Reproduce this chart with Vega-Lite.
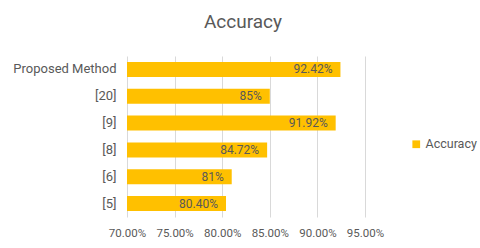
{
  "$schema": "https://vega.github.io/schema/vega-lite/v6.json",
  "autosize": "none",
  "width": 238,
  "height": 161,
  "padding": {"left": 127, "top": 56, "right": 115, "bottom": 31},
  "background": "white",
  "config": {
    "font": "Roboto",
    "view": {"stroke": null}
  },
  "title": {
    "text": "Accuracy",
    "fontSize": 19,
    "fontWeight": "normal",
    "color": "#595959",
    "anchor": "middle",
    "dx": -3,
    "offset": 24
  },
  "data": {
    "values": [
      {"method": "Proposed Method", "acc": 0.9242, "label": "92.42%"},
      {"method": "[20]", "acc": 0.85, "label": "85%"},
      {"method": "[9]", "acc": 0.9192, "label": "91.92%"},
      {"method": "[8]", "acc": 0.8472, "label": "84.72%"},
      {"method": "[6]", "acc": 0.81, "label": "81%"},
      {"method": "[5]", "acc": 0.804, "label": "80.40%"}
    ]
  },
  "encoding": {
    "y": {
      "field": "method",
      "type": "nominal",
      "sort": null,
      "title": null,
      "scale": {"paddingInner": 0.44, "paddingOuter": 0.22},
      "axis": {
        "domain": false,
        "ticks": false,
        "labelPadding": 11,
        "labelFontSize": 13,
        "labelColor": "#595959"
      }
    }
  },
  "layer": [
    {
      "mark": {"type": "bar", "color": "#FFC000"},
      "encoding": {
        "x": {
          "field": "acc",
          "type": "quantitative",
          "title": null,
          "scale": {"domain": [0.7, 0.95], "zero": false, "nice": false},
          "axis": {
            "format": ".2%",
            "values": [0.7, 0.75, 0.8, 0.85, 0.9, 0.95],
            "labelOverlap": false,
            "labelFlush": false,
            "domain": false,
            "ticks": false,
            "grid": true,
            "gridColor": "#D9D9D9",
            "labelFontSize": 11.5,
            "labelColor": "#595959",
            "labelPadding": 10
          }
        },
        "x2": {"datum": 0.7},
        "color": {
          "datum": "Accuracy",
          "scale": {"range": ["#FFC000"]},
          "legend": {
            "title": null,
            "orient": "none",
            "legendX": 283,
            "legendY": 82,
            "symbolType": "square",
            "symbolSize": 60,
            "labelFontSize": 12.5,
            "labelColor": "#595959",
            "labelOffset": 3
          }
        }
      }
    },
    {
      "mark": {"type": "text", "align": "right", "dx": -8, "fontSize": 12, "color": "#595959"},
      "encoding": {
        "x": {"field": "acc", "type": "quantitative"},
        "text": {"field": "label"}
      }
    }
  ]
}
